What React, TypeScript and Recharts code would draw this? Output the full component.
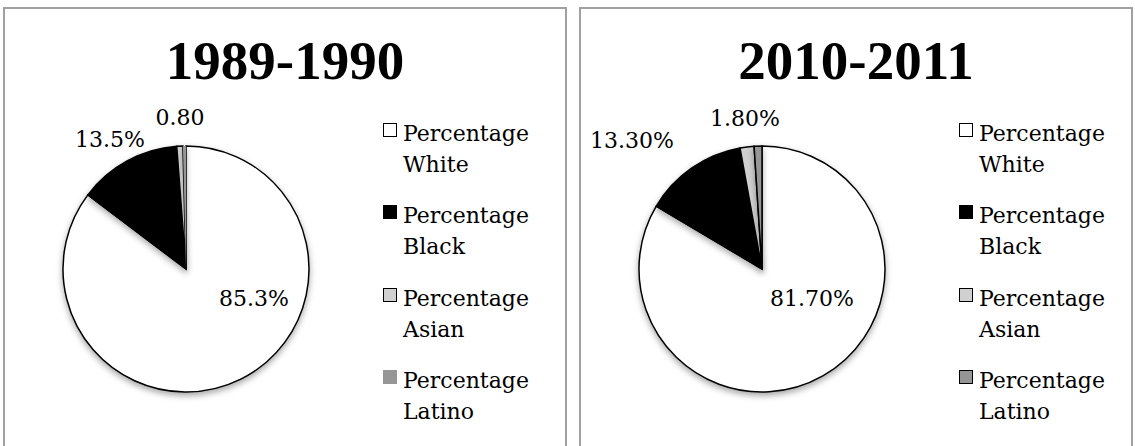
import React from 'react';
import { PieChart, Pie, Cell, Legend } from 'recharts';

const categories = ['Percentage White', 'Percentage Black', 'Percentage Asian', 'Percentage Latino'];
const values1990 = [85.3, 13.5, 0.8, 0.4];
const values2011 = [81.7, 13.3, 1.8, 1.0];
const labels1990 = ['85.3%', '13.5%', '0.80', ''];
const labels2011 = ['81.70%', '13.30%', '1.80%', ''];
const titles = ['1989-1990', '2010-2011'];

const fills = ['#ffffff', '#000000', '#d0d0d0', '#969696'];
const FONT = '"DejaVu Serif", serif';
const TITLE_FONT = '"Liberation Serif", serif';

type PanelSpec = {
  title: string;
  values: number[];
  labels: string[];
  offsets: (number[] | null)[];
  left: number;
  width: number;
  latinoStroke: boolean;
};

const panels: PanelSpec[] = [
  { title: titles[0], values: values1990, labels: labels1990, offsets: [[68, 37], [-76, -122], [-6, -144], null], left: 3, width: 564, latinoStroke: false },
  { title: titles[1], values: values2011, labels: labels2011, offsets: [[50, 37], [-130, -121], [-17, -143], null], left: 579, width: 554, latinoStroke: true },
];

const PIE_CX = 183;
const PIE_CY = 269;
const PIE_R = 123;

function makeLabel(labels: string[], offsets: (number[] | null)[]) {
  return (props: any) => {
    const { cx, cy, index } = props;
    const off = offsets[index];
    const txt = labels[index];
    if (!off || !txt) return null;
    return (
      <text
        x={Number(cx) + off[0]}
        y={Number(cy) + off[1]}
        textAnchor="middle"
        fill="#000"
        style={{ fontFamily: FONT, fontSize: 22 }}
      >
        {txt}
      </text>
    );
  };
}

function makeLegend(latinoStroke: boolean) {
  return () => (
    <div style={{ fontFamily: FONT, fontSize: 22, lineHeight: '31px', color: '#000' }}>
      {categories.map((c, i) => {
        const parts = c.split(' ');
        const stroke = i === 3 && !latinoStroke ? 'none' : '1.5px solid #000';
        return (
          <div key={c} style={{ position: 'relative', height: 82.4, paddingLeft: 20 }}>
            <div
              style={{
                position: 'absolute',
                left: 0,
                top: 5,
                width: 14,
                height: 14,
                boxSizing: 'border-box',
                background: fills[i],
                border: stroke,
              }}
            />
            <div>{parts[0]}</div>
            <div>{parts[1]}</div>
          </div>
        );
      })}
    </div>
  );
}

function Panel({ spec }: { spec: PanelSpec }) {
  const data = categories.map((name, i) => ({ name, value: spec.values[i] }));
  return (
    <>
      <div
        style={{
          position: 'absolute',
          left: spec.left,
          top: 7,
          width: spec.width,
          height: 460,
          boxSizing: 'border-box',
          border: '2px solid #a0a0a0',
        }}
      />
      <div
        style={{
          position: 'absolute',
          left: spec.left,
          top: 33,
          width: spec.width,
          textAlign: 'center',
          fontFamily: TITLE_FONT,
          fontWeight: 'bold',
          fontSize: 55,
          lineHeight: '55px',
          color: '#000',
        }}
      >
        {spec.title}
      </div>
      <div className="piebox" style={{ position: 'absolute', left: spec.left, top: 0 }}>
        <PieChart width={spec.width} height={446} margin={{ top: 0, right: 0, bottom: 0, left: 0 }}>
          <Pie
            data={data}
            dataKey="value"
            nameKey="name"
            cx={PIE_CX}
            cy={PIE_CY}
            outerRadius={PIE_R}
            startAngle={90}
            endAngle={-270}
            stroke="#000"
            strokeWidth={1.5}
            isAnimationActive={false}
            labelLine={false}
            label={makeLabel(spec.labels, spec.offsets)}
          >
            {data.map((d, i) => (
              <Cell key={d.name} fill={fills[i]} stroke={i === 3 && !spec.latinoStroke ? 'none' : '#000'} />
            ))}
          </Pie>
          <Legend
            content={makeLegend(spec.latinoStroke)}
            wrapperStyle={{ position: 'absolute', left: 380, top: 118, width: 180, margin: 0 }}
          />
        </PieChart>
      </div>
    </>
  );
}

export default function App() {
  return (
    <div
      style={{
        position: 'absolute',
        left: 0,
        top: 0,
        width: 1135,
        height: 446,
        overflow: 'hidden',
        background: '#fff',
      }}
    >
      <style>{`.piebox .recharts-pie-sector { filter: drop-shadow(0px 3px 3px rgba(0,0,0,0.35)); }`}</style>
      {panels.map((p) => (
        <Panel key={p.title} spec={p} />
      ))}
    </div>
  );
}
